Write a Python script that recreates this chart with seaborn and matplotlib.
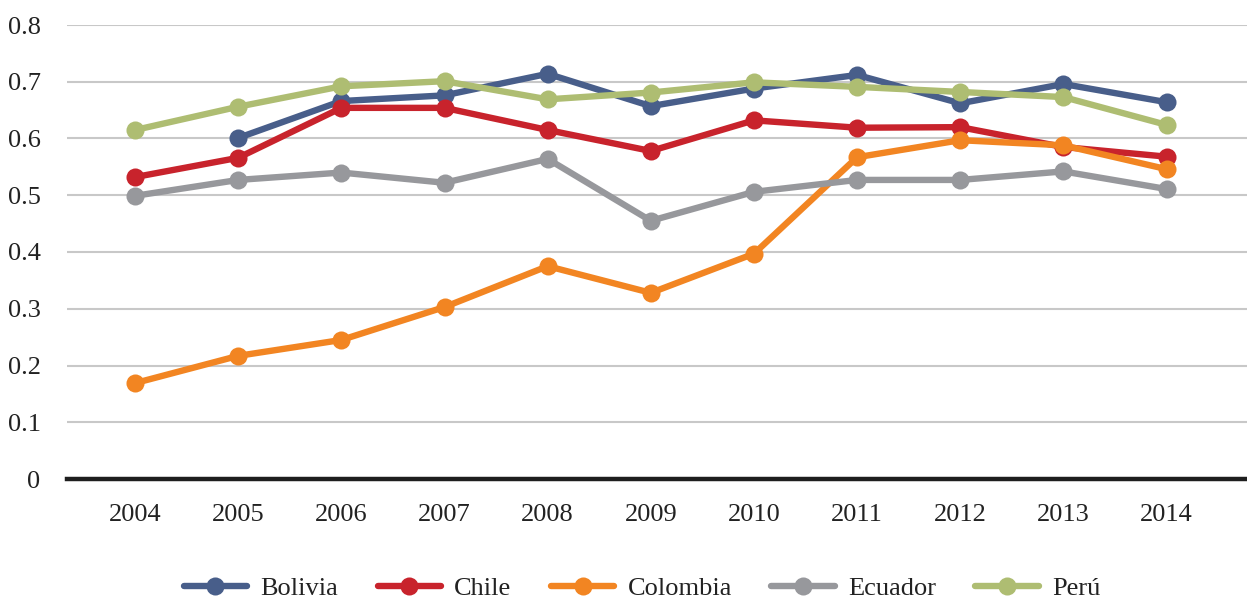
import numpy as np
import pandas as pd
import matplotlib.pyplot as plt
import seaborn as sns

years = [2004, 2005, 2006, 2007, 2008, 2009, 2010, 2011, 2012, 2013, 2014]
bolivia = [np.nan, 0.601, 0.666, 0.676, 0.714, 0.657, 0.688, 0.712, 0.662, 0.696, 0.664]
chile = [0.532, 0.566, 0.654, 0.654, 0.615, 0.578, 0.632, 0.619, 0.620, 0.585, 0.568]
colombia = [0.169, 0.217, 0.245, 0.303, 0.375, 0.328, 0.397, 0.567, 0.597, 0.588, 0.546]
ecuador = [0.499, 0.527, 0.540, 0.522, 0.564, 0.455, 0.506, 0.527, 0.527, 0.542, 0.511]
peru = [0.615, 0.656, 0.692, 0.701, 0.669, 0.681, 0.699, 0.691, 0.682, 0.673, 0.624]

countries = ["Bolivia", "Chile", "Colombia", "Ecuador", "Perú"]
colors = ["#485E8A", "#C8232C", "#F28522", "#97989C", "#AEBD72"]

df = pd.DataFrame({"Year": years, "Bolivia": bolivia, "Chile": chile,
                   "Colombia": colombia, "Ecuador": ecuador, "Perú": peru})
long = df.melt(id_vars="Year", var_name="País", value_name="Valor").dropna()

sns.set_theme(style="white")
plt.rcParams['font.family'] = ['Liberation Serif', 'DejaVu Serif']

fig = plt.figure(figsize=(12.47, 6), dpi=100)
ax = fig.add_axes([67 / 1247, 1 - 479 / 600, 1 - 67 / 1247, (479 - 25) / 600])

sns.lineplot(data=long, x="Year", y="Valor", hue="País", hue_order=countries,
             palette=dict(zip(countries, colors)), marker="o", markersize=13,
             markeredgewidth=0, linewidth=4.6, ax=ax, legend=True)

ax.set_xlim(2003.34, 2014.78)
ax.set_ylim(0, 0.8)
ax.set_xticks(years)
ax.set_xticklabels([str(y) for y in years])
ax.set_yticks(np.arange(0, 0.81, 0.1))
ax.set_yticklabels(["0"] + [f"{v:.1f}" for v in np.arange(0.1, 0.81, 0.1)])
ax.yaxis.grid(True, color="#C8C8C8", linewidth=1.5)
ax.xaxis.grid(False)
ax.set_axisbelow(True)
for s in ["top", "right", "left"]:
    ax.spines[s].set_visible(False)
ax.spines["bottom"].set_color("#1E1E1E")
ax.spines["bottom"].set_linewidth(3.2)
ax.spines["bottom"].set_zorder(1)
ax.tick_params(axis="both", length=0, labelsize=19, colors="#222222")
ax.tick_params(axis="x", pad=18)
ax.tick_params(axis="y", pad=19)
ax.set_xlabel("")
ax.set_ylabel("")

handles, labels = ax.get_legend_handles_labels()
ax.legend(handles, labels, loc="center", ncol=5, frameon=False, fontsize=19,
          handlelength=2.4, columnspacing=1.5, handletextpad=0.5,
          labelcolor="#222222")
leg = ax.get_legend()
leg.set_bbox_to_anchor((642 / 1247, 12 / 600), transform=fig.transFigure)

fig.savefig("out.png", dpi=100)
